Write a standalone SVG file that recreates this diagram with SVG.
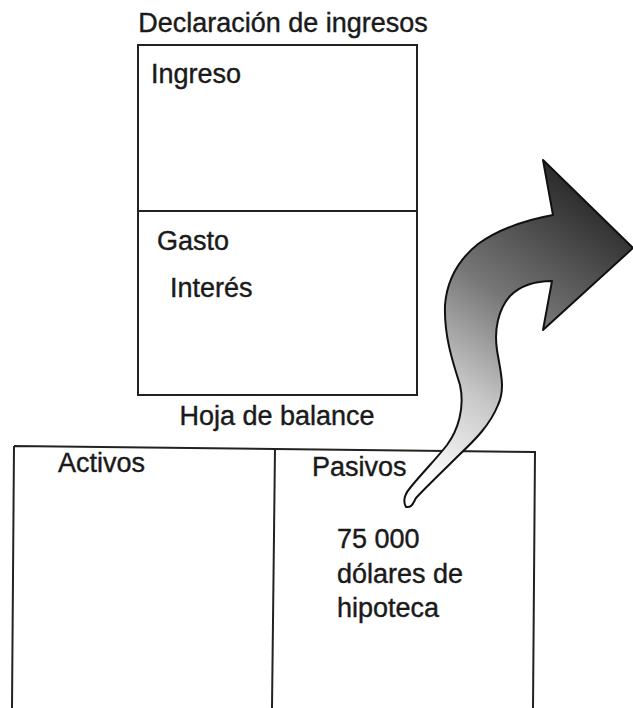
<svg xmlns="http://www.w3.org/2000/svg" width="633" height="708" viewBox="0 0 633 708">
<style>
.t{font-family:"Liberation Sans",Arial,sans-serif;font-size:27px;fill:#1a1a1a;stroke:#1a1a1a;stroke-width:0.4;}
.b{fill:none;stroke:#222;stroke-width:2;}
</style>
<defs>
<linearGradient id="g" gradientUnits="userSpaceOnUse" x1="425" y1="480" x2="610" y2="215">
<stop offset="0" stop-color="#ffffff"/>
<stop offset="0.3" stop-color="#c8c8c8"/>
<stop offset="0.6" stop-color="#777"/>
<stop offset="1" stop-color="#2e2e2e"/>
</linearGradient>
</defs>
<rect width="633" height="708" fill="#fff"/>
<g id="income-statement">
<text class="t" x="283" y="32" text-anchor="middle">Declaración de ingresos</text>
<rect class="b" x="138" y="45" width="279" height="350"/>
<line class="b" x1="138" y1="211" x2="417" y2="211"/>
<text class="t" x="151" y="83">Ingreso</text>
<text class="t" x="157" y="250">Gasto</text>
<text class="t" x="170" y="297">Interés</text>
</g>
<g id="balance-sheet">
<text class="t" x="277" y="425" text-anchor="middle">Hoja de balance</text>
<path class="b" d="M14,446 L535,452 L533,708 M12,708 L14,446"/>
<line class="b" x1="275" y1="448" x2="272" y2="708"/>
<text class="t" x="58" y="472">Activos</text>
<text class="t" x="312" y="476">Pasivos</text>
<text class="t" x="337" y="548">75 000</text>
<text class="t" x="337" y="583">dólares de</text>
<text class="t" x="337" y="617">hipoteca</text>
</g>
<g id="connectors">
<path fill="url(#g)" stroke="#111" stroke-width="2" stroke-linejoin="round" d="M406,507 C402,500 405,494 410,488 C423,472 437,458 447,445 C458,430 465,408 460,385 C452,360 444,335 445,305 C447,280 458,260 478,244 C498,230 525,220 553,215 L543,160 L633,248 L543,330 L552,281 C535,281 520,286 510,296 C498,310 494,330 497,350 C500,370 506,388 498,405 C490,425 475,440 458,456 C440,474 425,488 416,498 C413,503 412,508 406,507 Z"/>
</g>
</svg>
